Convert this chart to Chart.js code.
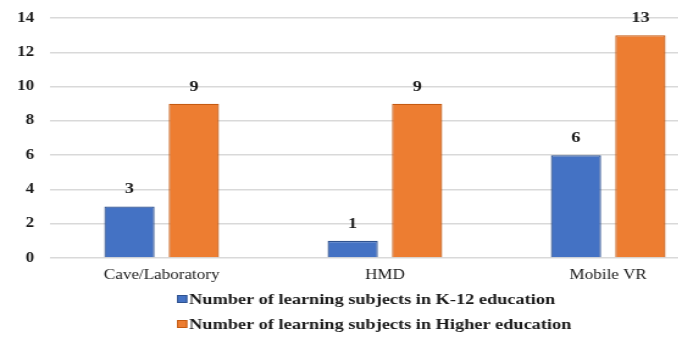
<!DOCTYPE html>
<html>
<head>
<meta charset="utf-8">
<script src="https://cdn.jsdelivr.net/npm/chart.js@4/dist/chart.umd.min.js"></script>
<style>
  html, body { margin: 0; padding: 0; background: #fff; overflow: hidden; }
  #wrap { width: 678px; height: 341px; overflow: hidden; }
  /* the chart is drawn narrow and widened, giving its lettering a broad look */
  #c { transform: scaleX(1.22); transform-origin: 0 0; display: block; }
</style>
</head>
<body>
<div id="wrap"><canvas id="c" width="590" height="341"></canvas></div>
<script>
// VR platform types
const categories = ['Cave/Laboratory', 'HMD', 'Mobile VR'];
// Number of learning subjects per platform
const k12Values = [3, 1, 6];
const higherEdValues = [9, 9, 13];
const seriesNames = [
  'Number of learning subjects in K-12 education',
  'Number of learning subjects in Higher education'
];
const yTicks = [0, 2, 4, 6, 8, 10, 12, 14];

const serif = '"Liberation Serif", "Times New Roman", serif';

// Writes each bar's value just above it
const valueLabels = {
  id: 'valueLabels',
  afterDatasetsDraw(chart) {
    const ctx = chart.ctx;
    ctx.save();
    ctx.font = 'bold 15px ' + serif;
    ctx.fillStyle = '#1a1a1a';
    ctx.textAlign = 'center';
    ctx.textBaseline = 'middle';
    chart.data.datasets.forEach((ds, i) => {
      chart.getDatasetMeta(i).data.forEach((bar, j) => {
        ctx.fillText(String(ds.data[j]), bar.x, bar.y - 17);
      });
    });
    ctx.restore();
  }
};

// Stacked legend below the axis, one series per row, left-aligned
const stackedLegend = {
  id: 'stackedLegend',
  afterDraw(chart) {
    const ctx = chart.ctx;
    const left = 145;
    const rows = [299, 324];
    ctx.save();
    ctx.font = 'bold 15px ' + serif;
    ctx.textAlign = 'left';
    ctx.textBaseline = 'middle';
    chart.data.datasets.forEach((ds, i) => {
      const y = rows[i];
      ctx.fillStyle = ds.backgroundColor;
      ctx.fillRect(left, y - 4, 8.5, 8);
      ctx.strokeStyle = ds.borderColor;
      ctx.lineWidth = 1;
      ctx.strokeRect(left + 0.5, y - 3.5, 7.5, 7);
      ctx.fillStyle = '#1a1a1a';
      ctx.fillText(ds.label, left + 10, y + 1);
    });
    ctx.restore();
  }
};

new Chart(document.getElementById('c'), {
  type: 'bar',
  data: {
    labels: categories,
    datasets: [
      {
        label: seriesNames[0],
        data: k12Values,
        backgroundColor: '#4472C4',
        borderColor: '#2F528F',
        borderWidth: 1.3
      },
      {
        label: seriesNames[1],
        data: higherEdValues,
        backgroundColor: '#ED7D31',
        borderColor: '#C55A11',
        borderWidth: 1.3
      }
    ]
  },
  options: {
    responsive: false,
    animation: false,
    layout: { padding: { top: 18, left: 0, right: 0, bottom: 55 } },
    datasets: {
      bar: { categoryPercentage: 0.577, barPercentage: 0.78 }
    },
    plugins: {
      tooltip: { enabled: false },
      legend: { display: false }
    },
    scales: {
      x: {
        grid: { display: false, drawTicks: false },
        border: { display: false },
        ticks: {
          padding: 9,
          color: '#1a1a1a',
          font: { family: serif, size: 14 }
        },
        afterFit(scale) {
          scale.height = 28;
          scale.paddingLeft = 0;
          scale.paddingRight = 0;
        }
      },
      y: {
        min: 0,
        max: 14,
        afterBuildTicks(scale) { scale.ticks = yTicks.map(v => ({ value: v })); },
        grid: { color: '#d9d9d9', lineWidth: 1.5, drawTicks: false },
        border: { display: false },
        ticks: {
          padding: 13,
          color: '#1a1a1a',
          font: { family: serif, size: 14, weight: 'bold' }
        },
        afterFit(scale) {
          scale.width = 41;
          scale.paddingTop = 0;
          scale.paddingBottom = 0;
        }
      }
    }
  },
  plugins: [valueLabels, stackedLegend]
});
</script>
</body>
</html>
